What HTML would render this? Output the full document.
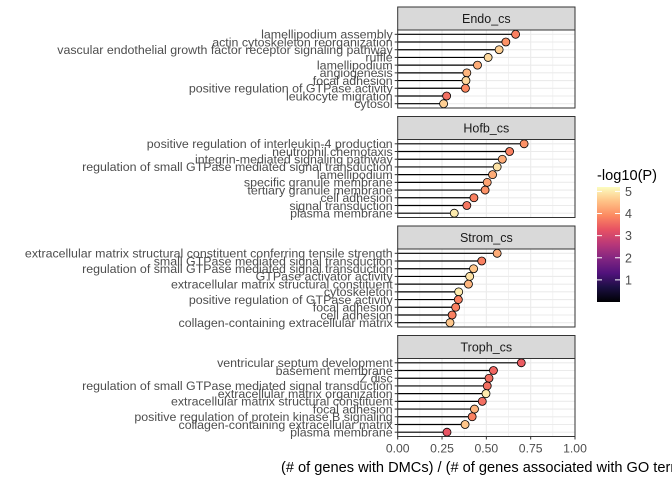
<!DOCTYPE html>
<html><head><meta charset="utf-8"><style>
body{margin:0;background:#fff;overflow:hidden;}
svg text{font-family:"Liberation Sans",sans-serif;}
</style></head><body>
<svg id="c" width="672" height="480" xmlns="http://www.w3.org/2000/svg">
<defs><linearGradient id="mg" x1="0" y1="1" x2="0" y2="0">
<stop offset="0" stop-color="#000004"/><stop offset="0.13" stop-color="#1c1044"/><stop offset="0.25" stop-color="#51127c"/><stop offset="0.38" stop-color="#832681"/><stop offset="0.5" stop-color="#b73779"/><stop offset="0.63" stop-color="#e75263"/><stop offset="0.75" stop-color="#fc8961"/><stop offset="0.88" stop-color="#fec488"/><stop offset="1" stop-color="#fcfdbf"/>
</linearGradient></defs>
</svg>
<script>
const panels=["Endo_cs","Hofb_cs","Strom_cs","Troph_cs"];
const terms=[
["lamellipodium assembly","actin cytoskeleton reorganization","vascular endothelial growth factor receptor signaling pathway","ruffle","lamellipodium","angiogenesis","focal adhesion","positive regulation of GTPase activity","leukocyte migration","cytosol"],
["positive regulation of interleukin-4 production","neutrophil chemotaxis","integrin-mediated signaling pathway","regulation of small GTPase mediated signal transduction","lamellipodium","specific granule membrane","tertiary granule membrane","cell adhesion","signal transduction","plasma membrane"],
["extracellular matrix structural constituent conferring tensile strength","small GTPase mediated signal transduction","regulation of small GTPase mediated signal transduction","GTPase activator activity","extracellular matrix structural constituent","cytoskeleton","positive regulation of GTPase activity","focal adhesion","cell adhesion","collagen-containing extracellular matrix"],
["ventricular septum development","basement membrane","Z disc","regulation of small GTPase mediated signal transduction","extracellular matrix organization","extracellular matrix structural constituent","focal adhesion","positive regulation of protein kinase B signaling","collagen-containing extracellular matrix","plasma membrane"]];
const ratios=[
[0.665,0.61,0.572,0.51,0.45,0.39,0.385,0.382,0.276,0.259],
[0.713,0.631,0.59,0.561,0.535,0.505,0.493,0.43,0.39,0.319],
[0.561,0.474,0.428,0.406,0.399,0.344,0.342,0.327,0.307,0.295],
[0.697,0.54,0.515,0.505,0.498,0.477,0.433,0.42,0.38,0.278]];
const logp=[
[3.8,4.0,4.7,4.8,4.3,4.4,4.8,3.9,3.6,4.7],
[4.0,3.8,4.3,4.9,4.3,4.2,4.0,3.8,3.7,5.0],
[4.3,3.8,4.6,4.9,4.4,5.0,3.8,3.8,3.8,4.6],
[3.4,3.5,3.6,3.6,5.0,3.6,4.4,3.8,4.6,3.3]];
const xTicks=[0,0.25,0.5,0.75,1];
const xTickLabels=["0.00","0.25","0.50","0.75","1.00"];
const legendTicks=[1,2,3,4,5];

const svg=document.getElementById('c');const NS="http://www.w3.org/2000/svg";
function el(t,a,p){const e=document.createElementNS(NS,t);for(const k in a)e.setAttribute(k,a[k]);(p||svg).appendChild(e);return e;}
const X0=397.7,X1=575;const xs=v=>X0+(X1-X0)*v;
const stripTop=[7,116.5,226,335.5],stripH=23,panelH=78;
const cmin=0,cmax=5.2,CB0=302,CB1=187;
const cy=v=>CB0+(CB1-CB0)*(v-cmin)/(cmax-cmin);
const stops=[[0,"#000004"],[0.13,"#1c1044"],[0.25,"#51127c"],[0.38,"#832681"],[0.5,"#b73779"],[0.63,"#e75263"],[0.75,"#fc8961"],[0.88,"#fec488"],[1,"#fcfdbf"]];
function hx(h){return [1,3,5].map(i=>parseInt(h.substr(i,2),16));}
function col(v){let t=Math.max(0,Math.min(1,(v-cmin)/(cmax-cmin)));for(let i=1;i<stops.length;i++){if(t<=stops[i][0]){const a=stops[i-1],b=stops[i];const f=(t-a[0])/(b[0]-a[0]);const A=hx(a[1]),B=hx(b[1]);return "rgb("+A.map((c,j)=>Math.round(c+(B[j]-c)*f)).join(",")+")";}}return stops[8][1];}

panels.forEach((name,p)=>{
  const g=el('g',{});
  
  
  const st=stripTop[p];
  const s=el('rect',{x:X0,y:st,width:X1-X0,height:stripH,fill:'#d9d9d9',stroke:'#333','stroke-width':1},g);
  
  const stt=el('text',{x:(X0+X1)/2,y:st+16,'text-anchor':'middle','font-size':12.5,fill:'#1a1a1a'},g);stt.textContent=name;
  
  const pt=st+stripH,pb=pt+panelH;
  for(let k=0;k<8;k++){const v=k*0.125;el('line',{x1:xs(v),x2:xs(v),y1:pt,y2:pb,stroke:'#ebebeb','stroke-width':k%2?0.6:1.1},g);}
  const n=terms[p].length;const r0=pt+4.3,dr=(panelH-8.6)/(n-1);
  terms[p].forEach((t,i)=>{
    const y=r0+dr*i;
    el('line',{x1:X0,x2:X1,y1:y,y2:y,stroke:'#ebebeb','stroke-width':1.1},g);
    el('line',{x1:X0-3,x2:X0,y1:y,y2:y,stroke:'#333','stroke-width':1},g);
    const tx=el('text',{x:X0-5,y:y+4.3,'text-anchor':'end','font-size':12.4,fill:'#4d4d4d'},g);tx.textContent=t;
    
    const seg=el('line',{x1:X0,x2:xs(ratios[p][i]),y1:y,y2:y,stroke:'#000','stroke-width':1.2},g);
    
    const c=el('circle',{cx:xs(ratios[p][i]),cy:y,r:4,fill:col(logp[p][i]),stroke:'#000','stroke-width':0.8},g);
    
  });
  el('rect',{x:X0,y:pt,width:X1-X0,height:panelH,fill:'none',stroke:'#333','stroke-width':1},g);
  if(p===3){xTicks.forEach((v,k)=>{el('line',{x1:xs(v),x2:xs(v),y1:pb,y2:pb+3,stroke:'#333'},g);
    const tl=el('text',{x:xs(v),y:pb+16,'text-anchor':'middle','font-size':12.2,fill:'#4d4d4d'},g);tl.textContent=xTickLabels[k];
    });}
});
const xt=el('text',{x:281,y:472,'font-size':14.6,fill:'#000'});xt.textContent="(# of genes with DMCs) / (# of genes associated with GO term)";

const lg=el('g',{});
const lt=el('text',{x:597,y:180,'font-size':14.6,fill:'#000'},lg);lt.textContent="-log10(P)";

el('rect',{x:597,y:CB1,width:23,height:CB0-CB1,fill:'url(#mg)'},lg);
legendTicks.forEach(v=>{const y=cy(v);el('line',{x1:597,x2:602,y1:y,y2:y,stroke:'#fff'},lg);el('line',{x1:615,x2:620,y1:y,y2:y,stroke:'#fff'},lg);
  const t=el('text',{x:625,y:y+4.5,'font-size':12.5,fill:'#4d4d4d'},lg);t.textContent=v;
  });
</script>
</body></html>
